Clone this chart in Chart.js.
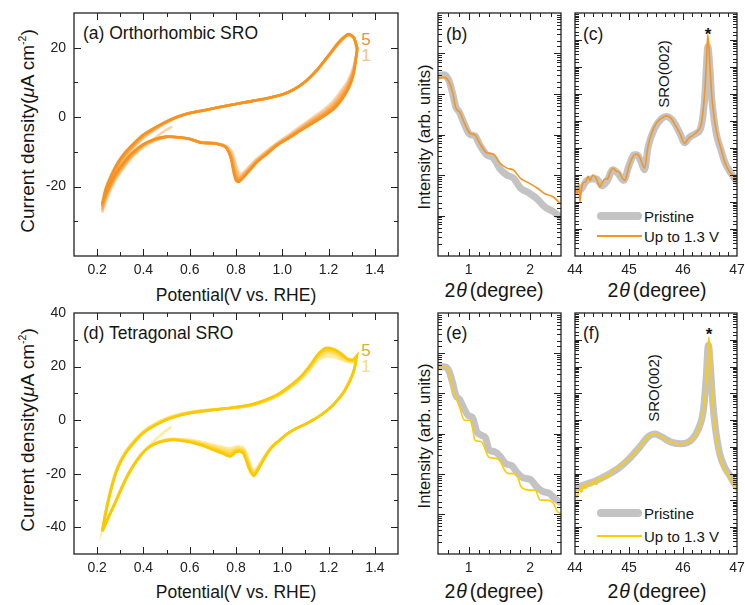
<!DOCTYPE html>
<html>
<head>
<meta charset="utf-8">
<script src="https://cdn.jsdelivr.net/npm/chart.js@4.4.1/dist/chart.umd.min.js"></script>
<style>
  body { margin: 0; background: #fff; }
  #fig { position: relative; width: 745px; height: 605px; overflow: hidden;
         font-family: "Liberation Sans", Arial, sans-serif; color: #151515; }
  #fig canvas { position: absolute; }
  .lbl { position: absolute; white-space: nowrap; line-height: 1; }
  .c { transform: translate(-50%, -50%); }
  .l { transform: translate(0, -50%); }
  .r { transform: translate(-50%, -50%) rotate(-90deg); }
  .sw { position: absolute; }
  .th { font-style: italic; margin: 0 3px 0 1px; }
  sup { font-size: 0.55em; vertical-align: 0; position: relative; top: -0.75em; }
</style>
</head>
<body>
<div id="fig">
  <!-- axis titles -->
  <div class="lbl r" style="left:27px;top:131px;font-size:19px">Current density(<i>μ</i>A cm<sup>-2</sup>)</div>
  <div class="lbl r" style="left:27px;top:430px;font-size:19px">Current density(<i>μ</i>A cm<sup>-2</sup>)</div>
  <div class="lbl r" style="left:424px;top:137px;font-size:16.5px">Intensity (arb. units)</div>
  <div class="lbl r" style="left:424px;top:436px;font-size:16.5px">Intensity (arb. units)</div>
  <div class="lbl c" style="left:236px;top:296px;font-size:17.5px">Potential(V vs. RHE)</div>
  <div class="lbl c" style="left:236px;top:593px;font-size:17.5px">Potential(V vs. RHE)</div>
  <div class="lbl c" style="left:494px;top:291px;font-size:19.5px">2<span class="th">θ</span>(degree)</div>
  <div class="lbl c" style="left:657px;top:291px;font-size:19.5px">2<span class="th">θ</span>(degree)</div>
  <div class="lbl c" style="left:494px;top:592px;font-size:19.5px">2<span class="th">θ</span>(degree)</div>
  <div class="lbl c" style="left:657px;top:592px;font-size:19.5px">2<span class="th">θ</span>(degree)</div>

  <!-- panel labels -->
  <div class="lbl l" style="left:83px;top:34px;font-size:17.5px">(a) Orthorhombic SRO</div>
  <div class="lbl l" style="left:446px;top:35px;font-size:17.5px">(b)</div>
  <div class="lbl l" style="left:583px;top:35px;font-size:17.5px">(c)</div>
  <div class="lbl l" style="left:83px;top:334px;font-size:17.5px">(d) Tetragonal SRO</div>
  <div class="lbl l" style="left:446px;top:334px;font-size:17.5px">(e)</div>
  <div class="lbl l" style="left:583px;top:334px;font-size:17.5px">(f)</div>

  <!-- cycle numbers -->
  <div class="lbl c" style="left:366px;top:39px;font-size:17px;color:#e8923a">5</div>
  <div class="lbl c" style="left:366px;top:55px;font-size:17px;color:#fbc083">1</div>
  <div class="lbl c" style="left:366px;top:350px;font-size:17px;color:#d9b030">5</div>
  <div class="lbl c" style="left:366px;top:366px;font-size:17px;color:#f8dc70">1</div>

  <!-- peak notes -->
  <div class="lbl r" style="left:663px;top:74px;font-size:15px">SRO(002)</div>
  <div class="lbl r" style="left:653px;top:388px;font-size:15px">SRO(002)</div>
  <div class="lbl c" style="left:708px;top:34px;font-size:17px;font-weight:bold">*</div>
  <div class="lbl c" style="left:709px;top:334px;font-size:17px;font-weight:bold">*</div>

  <!-- legends -->
  <div class="sw" style="left:597px;top:212px;width:45px;height:8px;border-radius:4px;background:#c3c3c3"></div>
  <div class="lbl l" style="left:644px;top:216px;font-size:15px">Pristine</div>
  <div class="sw" style="left:597px;top:235px;width:45px;height:1.6px;background:#f7941d"></div>
  <div class="lbl l" style="left:644px;top:236px;font-size:15px">Up to 1.3 V</div>
  <div class="sw" style="left:597px;top:509px;width:45px;height:8px;border-radius:4px;background:#c3c3c3"></div>
  <div class="lbl l" style="left:644px;top:513px;font-size:15px">Pristine</div>
  <div class="sw" style="left:597px;top:535px;width:45px;height:1.6px;background:#ffcc00"></div>
  <div class="lbl l" style="left:644px;top:536px;font-size:15px">Up to 1.3 V</div>
</div>
<script>
// ---- (a) orthorhombic SRO, 5 CV cycles ----
// anodic sweep (0.22 -> 1.32 V), shared potentials
const ortAnoX = [0.222, 0.235, 0.26, 0.29, 0.32, 0.36, 0.40, 0.45, 0.50, 0.55, 0.60, 0.68, 0.76, 0.84, 0.92, 1.00, 1.05, 1.10, 1.15, 1.20, 1.24, 1.27, 1.29, 1.31, 1.324];
const ortAno = [
  [-27.5,-24.0,-19.5,-15.0,-11.8,-8.6,-6.0,-3.6,-1.6,0.0,1.1,2.2,3.3,4.3,5.2,6.5,8.0,10.2,13.4,17.5,20.8,22.9,23.6,22.8,19.0],
  [-27.0,-23.4,-18.9,-14.5,-11.4,-8.3,-5.8,-3.5,-1.5,0.1,1.1,2.2,3.3,4.3,5.2,6.5,8.0,10.2,13.5,17.6,21.0,23.0,23.7,22.8,19.3],
  [-26.4,-22.7,-18.2,-14.0,-11.0,-8.0,-5.5,-3.3,-1.4,0.1,1.2,2.2,3.3,4.3,5.2,6.5,8.0,10.3,13.5,17.7,21.1,23.1,23.8,22.8,19.5],
  [-25.7,-21.8,-17.5,-13.5,-10.6,-7.7,-5.2,-3.1,-1.3,0.2,1.2,2.2,3.3,4.3,5.2,6.5,8.0,10.3,13.6,17.8,21.2,23.2,23.9,22.8,19.8],
  [-25.0,-21.0,-16.8,-13.0,-10.2,-7.4,-5.0,-3.0,-1.2,0.2,1.2,2.2,3.3,4.3,5.2,6.5,8.0,10.3,13.6,17.8,21.3,23.3,23.9,22.8,20.0]
];
// cathodic sweep (1.32 -> 0.22 V)
const ortCatX = [1.324, 1.318, 1.31, 1.30, 1.28, 1.25, 1.22, 1.18, 1.13, 1.08, 1.03, 0.98, 0.93, 0.89, 0.86, 0.835, 0.82, 0.81, 0.80, 0.79, 0.78, 0.77, 0.755, 0.73, 0.70, 0.65, 0.60, 0.55, 0.50, 0.45, 0.40, 0.35, 0.31, 0.28, 0.26, 0.24, 0.23, 0.222];
const ortCat = [
  [19.0,17.5,15.0,13.0,10.0,7.2,4.6,2.2,-0.2,-2.6,-5.0,-7.3,-9.8,-12.0,-14.0,-15.8,-16.4,-15.8,-13.8,-11.3,-9.6,-8.8,-8.2,-7.7,-7.4,-7.2,-6.3,-5.8,-5.8,-6.8,-8.6,-11.6,-15.0,-18.0,-20.6,-23.8,-25.8,-27.0],
  [19.3,17.2,14.5,12.4,9.4,6.5,3.9,1.6,-0.6,-3.0,-5.3,-7.5,-10.1,-12.3,-14.4,-16.2,-17.0,-16.8,-15.0,-12.5,-10.4,-9.4,-8.4,-7.8,-7.4,-7.3,-6.3,-5.8,-5.7,-6.6,-8.3,-11.3,-14.6,-17.5,-20.0,-23.2,-25.2,-26.4],
  [19.5,17.0,14.0,11.8,8.8,5.7,3.3,1.1,-1.0,-3.3,-5.6,-7.7,-10.4,-12.6,-14.8,-16.6,-17.5,-17.6,-16.2,-13.8,-11.2,-9.9,-8.5,-7.8,-7.5,-7.3,-6.3,-5.8,-5.7,-6.5,-8.1,-11.0,-14.2,-17.1,-19.6,-22.6,-24.5,-25.7],
  [19.8,16.8,13.5,11.1,8.1,5.0,2.7,0.7,-1.4,-3.6,-5.8,-7.9,-10.6,-12.8,-15.0,-16.9,-17.9,-18.2,-17.3,-15.0,-12.0,-10.1,-8.6,-7.9,-7.5,-7.4,-6.3,-5.8,-5.6,-6.4,-7.9,-10.7,-13.8,-16.7,-19.2,-22.1,-23.8,-25.0],
  [20.0,16.5,13.0,10.5,7.4,4.4,2.2,0.3,-1.8,-3.8,-6.0,-8.0,-10.8,-13.0,-15.3,-17.2,-18.2,-18.7,-18.2,-16.0,-12.5,-10.3,-8.6,-7.9,-7.5,-7.4,-6.3,-5.8,-5.6,-6.3,-7.8,-10.4,-13.5,-16.3,-18.8,-21.6,-23.3,-24.5]
];
// first cycle starts at open circuit and scans down
const ortStartX = [0.524, 0.50, 0.47, 0.44, 0.40, 0.35, 0.31, 0.28, 0.26, 0.24, 0.23, 0.222];
const ortStartY = [-2.7, -3.6, -5.0, -6.6, -8.6, -11.6, -15.0, -18.0, -20.6, -23.8, -25.8, -27.5];

// ---- (d) tetragonal SRO ----
const tetAnoX = [0.222, 0.235, 0.25, 0.27, 0.29, 0.32, 0.36, 0.40, 0.45, 0.50, 0.56, 0.62, 0.70, 0.78, 0.86, 0.92, 0.98, 1.03, 1.08, 1.12, 1.15, 1.18, 1.20, 1.23, 1.26, 1.28, 1.30, 1.31, 1.321];
const tetAno = [
  [-41.5,-35.0,-28.8,-22.0,-17.0,-12.0,-7.6,-4.1,-1.3,0.8,2.4,3.3,4.0,4.5,5.3,6.8,8.9,11.8,15.2,18.8,22.0,23.5,23.8,23.4,22.3,21.8,21.5,21.8,23.5],
  [-41.5,-35.1,-29.0,-22.2,-17.2,-12.2,-7.8,-4.3,-1.5,0.6,2.2,3.2,3.9,4.5,5.4,6.9,9.1,12.0,15.5,19.3,22.8,24.6,25.0,24.5,23.0,22.2,21.8,22.1,23.6],
  [-41.5,-35.2,-29.2,-22.4,-17.4,-12.4,-8.0,-4.5,-1.7,0.4,2.1,3.1,3.9,4.5,5.5,7.0,9.3,12.2,15.8,19.8,23.4,25.5,25.9,25.2,23.6,22.5,22.1,22.4,23.7],
  [-41.5,-35.4,-29.4,-22.6,-17.6,-12.6,-8.2,-4.7,-1.9,0.2,1.9,3.0,3.8,4.6,5.6,7.2,9.5,12.4,16.1,20.2,23.8,26.1,26.5,25.8,24.1,22.8,22.3,22.6,23.8],
  [-41.5,-35.5,-29.5,-22.8,-17.8,-12.8,-8.3,-4.8,-2.0,0.1,1.8,2.9,3.8,4.6,5.7,7.3,9.6,12.6,16.3,20.5,24.2,26.6,27.0,26.2,24.5,23.0,22.5,22.8,23.9]
];
const tetCatX = [1.321, 1.315, 1.306, 1.29, 1.263, 1.23, 1.206, 1.17, 1.133, 1.10, 1.062, 1.02, 0.99, 0.965, 0.946, 0.925, 0.903, 0.89, 0.877, 0.865, 0.853, 0.842, 0.831, 0.815, 0.80, 0.785, 0.775, 0.76, 0.74, 0.70, 0.66, 0.62, 0.58, 0.53, 0.49, 0.45, 0.42, 0.39, 0.36, 0.33, 0.30, 0.28, 0.26, 0.245, 0.232, 0.222];
const tetCat = [
  [23.5,20.5,17.6,14.4,10.1,6.6,4.5,2.1,0.1,-1.5,-3.0,-5.2,-7.4,-9.1,-10.8,-13.2,-16.2,-17.8,-18.8,-17.2,-14.2,-11.6,-10.2,-9.8,-9.9,-10.3,-10.5,-10.4,-10.0,-9.2,-8.3,-7.6,-7.2,-7.0,-7.4,-8.6,-10.1,-12.7,-16.4,-20.8,-26.3,-30.3,-34.0,-36.9,-39.5,-41.5],
  [23.6,20.5,17.6,14.4,10.1,6.6,4.5,2.1,0.1,-1.5,-3.0,-5.2,-7.4,-9.1,-10.9,-13.4,-16.5,-18.3,-19.4,-17.8,-15.0,-12.3,-10.8,-10.3,-10.4,-11.0,-11.3,-11.1,-10.6,-9.7,-8.7,-7.9,-7.4,-7.1,-7.5,-8.7,-10.2,-12.8,-16.4,-20.8,-26.3,-30.3,-34.1,-36.9,-39.5,-41.5],
  [23.7,20.5,17.6,14.4,10.1,6.6,4.5,2.1,0.1,-1.5,-3.0,-5.2,-7.4,-9.2,-11.0,-13.6,-16.8,-18.8,-20.0,-18.5,-15.9,-13.1,-11.4,-10.9,-11.0,-11.8,-12.2,-11.9,-11.3,-10.2,-9.1,-8.2,-7.6,-7.2,-7.6,-8.8,-10.3,-12.9,-16.5,-20.9,-26.4,-30.4,-34.1,-37.0,-39.5,-41.5],
  [23.8,20.5,17.6,14.4,10.1,6.6,4.5,2.1,0.1,-1.5,-3.0,-5.2,-7.4,-9.2,-11.1,-13.8,-17.1,-19.1,-20.5,-19.1,-16.7,-13.8,-11.9,-11.3,-11.5,-12.4,-12.9,-12.6,-11.9,-10.7,-9.4,-8.4,-7.8,-7.3,-7.7,-8.8,-10.3,-13.0,-16.6,-21.0,-26.5,-30.5,-34.2,-37.0,-39.6,-41.5],
  [23.9,20.5,17.6,14.4,10.1,6.6,4.5,2.1,0.1,-1.5,-3.0,-5.2,-7.4,-9.2,-11.1,-14.0,-17.4,-19.4,-20.9,-19.6,-17.4,-14.5,-12.4,-11.7,-11.9,-13.0,-13.6,-13.2,-12.4,-11.1,-9.7,-8.6,-7.9,-7.4,-7.8,-8.9,-10.4,-13.0,-16.6,-21.0,-26.5,-30.5,-34.2,-37.0,-39.6,-41.5]
];
const tetStartX = [0.52, 0.50, 0.47, 0.44, 0.42, 0.39, 0.36, 0.33, 0.30, 0.28, 0.26, 0.245, 0.232, 0.222];
const tetStartY = [-2.5, -3.8, -5.9, -8.2, -10.0, -12.8, -16.5, -20.9, -26.4, -30.4, -34.1, -37.0, -39.5, -41.5];

// ---- (b) low-angle reflectivity, orthorhombic ----
const bX = [0.5, 0.6, 0.68, 0.74, 0.79, 0.85, 0.93, 1.02, 1.1, 1.18, 1.29, 1.4, 1.51, 1.62, 1.73, 1.84, 1.98, 2.12, 2.23, 2.37, 2.5];
const bPristine = [27500, 30000, 21000, 10000, 4800, 3500, 1780, 1000, 930, 550, 316, 263, 141, 100, 83, 48, 36, 25, 16.6, 12.6, 8.9];
const bUp = [24500, 25700, 20000, 10500, 4470, 3630, 1900, 1070, 980, 600, 355, 330, 195, 148, 132, 83, 63, 47, 35, 29, 19];

// ---- (e) low-angle reflectivity, tetragonal ----
const ePriX = [0.5, 0.6, 0.68, 0.74, 0.79, 0.85, 0.93, 1.0, 1.06, 1.13, 1.2, 1.27, 1.33, 1.43, 1.5, 1.6, 1.7, 1.8, 1.88, 2.0, 2.1, 2.2, 2.3, 2.4, 2.5];
const ePristine = [45700, 45700, 35500, 17800, 8900, 7080, 3980, 2750, 2510, 1120, 912, 794, 398, 347, 282, 178, 158, 100, 79, 72, 48, 36, 33, 24, 18.6];
const eUpX = [0.5, 0.6, 0.68, 0.74, 0.79, 0.85, 0.93, 1.02, 1.06, 1.1, 1.2, 1.27, 1.32, 1.43, 1.5, 1.6, 1.66, 1.77, 1.85, 1.99, 2.08, 2.16, 2.27, 2.38, 2.43, 2.5];
const eUp = [41700, 45700, 34700, 12000, 8130, 4570, 2140, 2140, 1410, 676, 631, 398, 263, 240, 214, 112, 100, 100, 48, 39, 39, 22, 22, 18, 12, 10];

// ---- (c) XRD around SRO(002), orthorhombic ----
const cPriX = [44.0, 44.1, 44.2, 44.3, 44.4, 44.5, 44.6, 44.7, 44.8, 44.9, 45.0, 45.1, 45.15, 45.22, 45.29, 45.35, 45.48, 45.6, 45.69, 45.81, 45.94, 46.03, 46.12, 46.25, 46.33, 46.4, 46.43, 46.46, 46.5, 46.53, 46.56, 46.62, 46.7, 46.77, 46.86, 46.93, 47.0];
const cPristine = [316, 282, 562, 708, 708, 398, 631, 1580, 1120, 631, 2240, 5620, 5620, 3160, 1580, 10000, 56200, 120000, 148000, 105000, 35500, 15800, 25100, 35500, 56200, 631000, 7.94e6, 5.62e7, 7.94e6, 794000, 200000, 31600, 8910, 3160, 1410, 891, 562];
const cUpX = [44.0, 44.04, 44.07, 44.09, 44.12, 44.15, 44.2, 44.24, 44.28, 44.33, 44.37, 44.42, 44.46, 44.5, 44.55, 44.6, 44.65, 44.71, 44.76, 44.82, 44.86, 44.92, 45.01, 45.08, 45.14, 45.2, 45.25, 45.29, 45.35, 45.42, 45.5, 45.6, 45.69, 45.78, 45.87, 45.94, 46.03, 46.1, 46.2, 46.28, 46.34, 46.4, 46.43, 46.46, 46.5, 46.53, 46.56, 46.62, 46.7, 46.77, 46.86, 46.93, 47.0];
const cUp = [398, 200, 501, 100, 316, 501, 562, 891, 631, 1000, 891, 562, 355, 501, 708, 708, 1260, 1780, 1410, 1260, 891, 631, 2510, 5010, 6030, 4470, 2510, 1780, 11200, 35500, 79400, 126000, 155000, 126000, 63100, 35500, 14800, 22400, 31600, 44700, 79400, 1e6, 1e7, 1.58e8, 1e7, 1e6, 251000, 39800, 10000, 3160, 1320, 955, 562];

// ---- (f) XRD around SRO(002), tetragonal ----
const fPriX = [44.0, 44.2, 44.4, 44.6, 44.8, 45.0, 45.2, 45.35, 45.48, 45.6, 45.79, 45.97, 46.16, 46.28, 46.38, 46.43, 46.47, 46.51, 46.55, 46.6, 46.68, 46.77, 46.86, 46.95, 47.0];
const fPristine = [282, 398, 562, 891, 1580, 3550, 10000, 23400, 30200, 24000, 14800, 13200, 18600, 44700, 251000, 3.98e6, 6.31e7, 7.94e6, 501000, 50100, 5620, 1780, 891, 447, 316];
const fUpX = [44.0, 44.04, 44.08, 44.12, 44.16, 44.2, 44.25, 44.3, 44.35, 44.4, 44.45, 44.5, 44.55, 44.6, 44.67, 44.76, 44.86, 44.95, 45.04, 45.12, 45.2, 45.28, 45.35, 45.42, 45.48, 45.55, 45.62, 45.7, 45.79, 45.88, 45.97, 46.06, 46.16, 46.22, 46.28, 46.34, 46.38, 46.42, 46.45, 46.48, 46.51, 46.54, 46.57, 46.61, 46.68, 46.77, 46.86, 46.95, 47.0];
const fUp = [224, 126, 316, 200, 398, 282, 501, 355, 562, 398, 708, 562, 891, 708, 1200, 1580, 2140, 3020, 4370, 6610, 10200, 16600, 24000, 29500, 30900, 28200, 22900, 17800, 14500, 13200, 12900, 14100, 18200, 25100, 42700, 100000, 240000, 1.58e6, 1.58e7, 1.26e8, 1.26e7, 1e6, 126000, 25100, 4370, 1380, 776, 331, 251];

const orangeCycles = ['#fdd3a6', '#fcbf80', '#fbab58', '#f99d3a', '#f7921c'];
const yellowCycles = ['#ffec9e', '#ffe276', '#ffd94e', '#ffd029', '#fcc800'];
const FONT = '"Liberation Sans", Arial, sans-serif';

const fig = document.getElementById('fig');

function pts(xs, ys) {
  return xs.map((x, i) => ({ x: x, y: ys[i] }));
}

// cycle 5 drawn last (lowest order = on top)
function cvSets(anoX, ano, catX, cat, startX, startY, colors) {
  return ano.map((a, k) => {
    let d = pts(anoX, a).concat(pts(catX, cat[k]));
    if (k === 0) d = pts(startX, startY).concat(d);
    return { data: d, order: ano.length - k, borderColor: colors[k], borderWidth: 2.6, pointRadius: 0, showLine: true, tension: 0.2, fill: false };
  });
}

function xrdSets(priX, pri, upX, up, color) {
  return [
    { data: pts(priX, pri), order: 2, borderColor: '#c3c3c3', borderWidth: 7, pointRadius: 0, showLine: true, cubicInterpolationMode: 'monotone', borderCapStyle: 'round', borderJoinStyle: 'round' },
    { data: pts(upX, up), order: 1, borderColor: color, borderWidth: 1.6, pointRadius: 0, showLine: true, cubicInterpolationMode: 'monotone' }
  ];
}

// inward tick marks on all four sides + frame
const frameTicks = {
  id: 'frameTicks',
  afterDraw(chart) {
    const ctx = chart.ctx, a = chart.chartArea;
    const isMajor = (s, t) => s.type === 'logarithmic'
      ? Math.abs(Math.log10(t.value) - Math.round(Math.log10(t.value))) < 1e-6
      : t.label !== '';
    ctx.save();
    ctx.strokeStyle = '#222';
    ctx.lineWidth = 1;
    ctx.beginPath();
    const sx = chart.scales.x, sy = chart.scales.y;
    sx.ticks.forEach(t => {
      const p = Math.round(sx.getPixelForValue(t.value)) + 0.5;
      if (p <= a.left + 1 || p >= a.right - 1) return;
      const len = isMajor(sx, t) ? 7 : 4;
      ctx.moveTo(p, a.bottom); ctx.lineTo(p, a.bottom - len);
      ctx.moveTo(p, a.top); ctx.lineTo(p, a.top + len);
    });
    sy.ticks.forEach(t => {
      const p = Math.round(sy.getPixelForValue(t.value)) + 0.5;
      if (p <= a.top + 1 || p >= a.bottom - 1) return;
      const len = isMajor(sy, t) ? 7 : 4;
      ctx.moveTo(a.left, p); ctx.lineTo(a.left + len, p);
      ctx.moveTo(a.right, p); ctx.lineTo(a.right - len, p);
    });
    ctx.stroke();
    ctx.lineWidth = 1.3;
    ctx.strokeRect(a.left, a.top, a.right - a.left, a.bottom - a.top);
    ctx.restore();
  }
};

function panel(box, yW, xCfg, yCfg, datasets) {
  const padL = 12, padT = 6, padR = 8, padB = 2, xH = 30;
  const w = padL + yW + (box.r - box.l) + padR;
  const h = padT + (box.b - box.t) + xH + padB;
  const cv = document.createElement('canvas');
  cv.width = w; cv.height = h;
  cv.style.left = (box.l - yW - padL) + 'px';
  cv.style.top = (box.t - padT) + 'px';
  cv.style.width = w + 'px';
  cv.style.height = h + 'px';
  fig.appendChild(cv);

  const tickFont = { family: FONT, size: 14 };
  new Chart(cv, {
    type: 'scatter',
    data: { datasets: datasets },
    options: {
      responsive: false,
      animation: false,
      devicePixelRatio: 1,
      layout: { padding: { left: padL, top: padT, right: padR, bottom: padB } },
      plugins: { legend: { display: false }, tooltip: { enabled: false } },
      scales: {
        x: Object.assign({
          type: 'linear',
          grid: { display: false, drawTicks: false },
          border: { display: false },
          ticks: Object.assign({ autoSkip: false, maxRotation: 0, padding: 6, font: tickFont, color: '#222' }, xCfg.ticks),
          afterFit(s) { s.height = xH; s.paddingLeft = 0; s.paddingRight = 0; }
        }, xCfg.range),
        y: Object.assign({
          grid: { display: false, drawTicks: false },
          border: { display: false },
          ticks: Object.assign({ autoSkip: false, padding: 8, font: tickFont, color: '#222' }, yCfg.ticks),
          afterFit(s) { s.width = yW; s.paddingTop = 0; s.paddingBottom = 0; }
        }, yCfg.range)
      }
    },
    plugins: [frameTicks]
  });
}

const isWhole = v => Math.abs(v - Math.round(v)) < 1e-6;
const potTicks = {
  range: { min: 0.1, max: 1.5 },
  ticks: { stepSize: 0.1, callback: v => { const k = Math.round(v * 10); return (k % 2 === 0 && k >= 2 && k <= 14) ? (k / 10).toFixed(1) : ''; } }
};
const curTicks = (min, max) => ({
  range: { type: 'linear', min: min, max: max },
  ticks: { stepSize: 10, callback: v => (Math.round(v) % 20 === 0 && v > min) ? String(Math.round(v)) : '' }
});
const intTicks = (max) => ({
  range: { type: 'logarithmic', min: 1, max: max },
  ticks: { display: false }
});
const lowAngle = {
  range: { min: 0.5, max: 2.5 },
  ticks: { stepSize: 1 / 6, callback: v => isWhole(v) && v > 0.6 && v < 2.4 ? String(Math.round(v)) : '' }
};
const highAngle = {
  range: { min: 44, max: 47 },
  ticks: { stepSize: 1 / 6, callback: v => isWhole(v) ? String(Math.round(v)) : '' }
};

panel({ l: 74, t: 13, r: 398, b: 256 }, 44, potTicks, curTicks(-40, 30),
  cvSets(ortAnoX, ortAno, ortCatX, ortCat, ortStartX, ortStartY, orangeCycles));
panel({ l: 438, t: 13, r: 561, b: 256 }, 0, lowAngle, intTicks(1e6),
  xrdSets(bX, bPristine, bX, bUp, '#f7941d'));
panel({ l: 575, t: 13, r: 737, b: 256 }, 0, highAngle, intTicks(1e9),
  xrdSets(cPriX, cPristine, cUpX, cUp, '#f7941d'));

panel({ l: 74, t: 313, r: 398, b: 554 }, 44, potTicks, curTicks(-50, 40),
  cvSets(tetAnoX, tetAno, tetCatX, tetCat, tetStartX, tetStartY, yellowCycles));
panel({ l: 438, t: 313, r: 561, b: 554 }, 0, lowAngle, intTicks(1e6),
  xrdSets(ePriX, ePristine, eUpX, eUp, '#ffcc00'));
panel({ l: 575, t: 313, r: 737, b: 554 }, 0, highAngle, intTicks(1e9),
  xrdSets(fPriX, fPristine, fUpX, fUp, '#ffcc00'));
</script>
</body>
</html>
